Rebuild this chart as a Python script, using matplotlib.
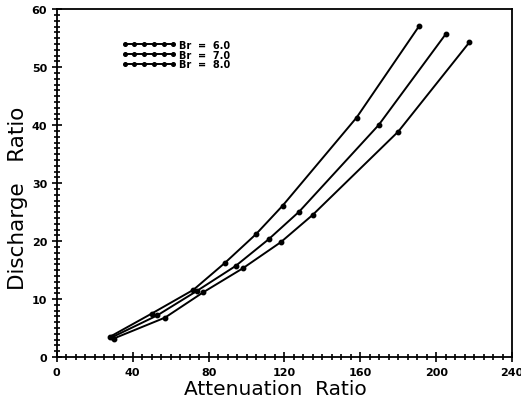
import matplotlib
matplotlib.use("Agg")
import matplotlib.pyplot as plt
from matplotlib.ticker import MultipleLocator

# Attenuation ratio vs discharge ratio for three Br values
x_br6 = [28, 50, 72, 88.8, 105, 119, 158, 191]
y_br6 = [3.5, 7.5, 11.6, 16.3, 21.2, 26.1, 41.3, 57.1]

x_br7 = [29, 53, 73.8, 94.2, 111.6, 127.8, 169.6, 205]
y_br7 = [3.4, 7.2, 11.4, 15.7, 20.3, 25.1, 40.0, 55.7]

x_br8 = [30, 57, 77.3, 98, 118, 134.8, 180, 217.5]
y_br8 = [3.2, 6.8, 11.2, 15.3, 19.8, 24.5, 38.9, 54.3]

labels = ["Br  =  6.0", "Br  =  7.0", "Br  =  8.0"]

fig = plt.figure(figsize=(5.21, 4.06), dpi=100)
ax = fig.add_axes([0.109, 0.118, 0.874, 0.857])

for xs, ys, lab in zip([x_br6, x_br7, x_br8], [y_br6, y_br7, y_br8], labels):
    ax.plot(xs, ys, color="black", lw=1.4, marker="o", ms=3.2, label=lab)

ax.set_xlim(0, 240)
ax.set_ylim(0, 60)
ax.xaxis.set_major_locator(MultipleLocator(40))
ax.xaxis.set_minor_locator(MultipleLocator(5))
ax.yaxis.set_major_locator(MultipleLocator(10))
ax.yaxis.set_minor_locator(MultipleLocator(1))
ax.tick_params(which="both", direction="inout", top=False, right=False, width=1.2)
ax.tick_params(which="major", length=7, labelsize=8)
ax.tick_params(which="minor", length=4)
for lbl in ax.get_xticklabels() + ax.get_yticklabels():
    lbl.set_fontweight("bold")
for sp in ax.spines.values():
    sp.set_linewidth(1.3)

ax.set_xlabel("Attenuation  Ratio", fontsize=14.5)
ax.set_ylabel("Discharge   Ratio", fontsize=15.5)
ax.xaxis.set_label_coords(0.479, -0.062)
ax.yaxis.set_label_coords(-0.063, 0.458)

leg = ax.legend(loc="upper left", bbox_to_anchor=(0.132, 0.926), frameon=False,
                numpoints=6, handlelength=5.6, handletextpad=0.3,
                labelspacing=-0.02, fontsize=7, borderpad=0)
for t in leg.get_texts():
    t.set_fontweight("bold")
for h in leg.legend_handles:
    h.set_markersize(2.6)

fig.savefig("out.png", dpi=100)
